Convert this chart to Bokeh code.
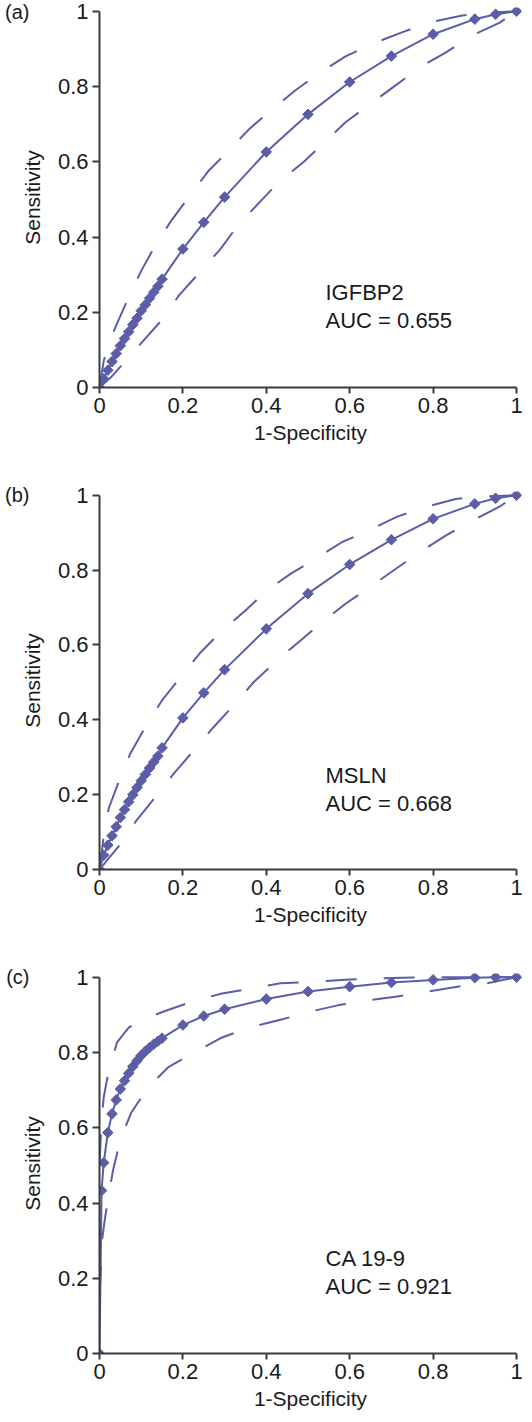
from bokeh.plotting import figure
from bokeh.models import FixedTicker, Label, LinearAxis
from bokeh.layouts import column
from bokeh.embed import file_html
from bokeh.resources import INLINE

# ---------------- data ----------------
tick_values = [0, 0.2, 0.4, 0.6, 0.8, 1.0]
tick_labels = ["0", "0.2", "0.4", "0.6", "0.8", "1"]

fpr_ab = [0, 0.01, 0.02, 0.03, 0.04, 0.05, 0.06, 0.07, 0.08, 0.09, 0.10, 0.11, 0.12, 0.13,
          0.14, 0.15, 0.2, 0.25, 0.3, 0.4, 0.5, 0.6, 0.7, 0.8, 0.9, 0.95, 1.0]
sens_a = [0, 0.023, 0.046, 0.069, 0.090, 0.111, 0.130, 0.148, 0.167, 0.184, 0.204, 0.220, 0.237,
          0.253, 0.269, 0.288, 0.368, 0.439, 0.506, 0.626, 0.726, 0.812, 0.881, 0.939, 0.979, 0.992, 1.0]
sens_b = [0, 0.038, 0.065, 0.090, 0.114, 0.139, 0.160, 0.181, 0.200, 0.219, 0.237, 0.254, 0.271,
          0.287, 0.303, 0.325, 0.405, 0.472, 0.534, 0.643, 0.737, 0.815, 0.881, 0.937, 0.977, 0.992, 1.0]

fpr_c = [0, 0.005, 0.01, 0.02, 0.03, 0.04, 0.05, 0.06, 0.07, 0.08, 0.09, 0.10, 0.11, 0.12, 0.13,
         0.14, 0.15, 0.2, 0.25, 0.3, 0.4, 0.5, 0.6, 0.7, 0.8, 0.9, 0.95, 1.0]
sens_c = [0, 0.433, 0.507, 0.587, 0.637, 0.674, 0.703, 0.725, 0.745, 0.763, 0.778, 0.792, 0.803,
          0.813, 0.822, 0.830, 0.838, 0.873, 0.897, 0.915, 0.942, 0.962, 0.975, 0.986, 0.993, 0.999, 1.0, 1.0]

# confidence bands (upper / lower)
up_a_x = [0, 0.01, 0.02, 0.04, 0.07, 0.10, 0.13, 0.17, 0.21, 0.26, 0.31, 0.36, 0.42, 0.47, 0.53,
          0.59, 0.66, 0.73, 0.79, 0.87, 0.93, 1.0]
up_a_y = [0, 0.07, 0.11, 0.165, 0.24, 0.31, 0.37, 0.44, 0.50, 0.574, 0.63, 0.688, 0.745, 0.79, 0.838,
          0.88, 0.916, 0.946, 0.97, 0.989, 0.996, 1.0]
lo_a_x = [0, 0.03, 0.06, 0.10, 0.15, 0.19, 0.24, 0.29, 0.33, 0.38, 0.43, 0.49, 0.54, 0.59, 0.65,
          0.71, 0.77, 0.83, 0.89, 0.96, 1.0]
lo_a_y = [0, 0.03, 0.068, 0.118, 0.18, 0.244, 0.306, 0.368, 0.428, 0.488, 0.546, 0.60, 0.652, 0.705,
          0.754, 0.803, 0.852, 0.89, 0.934, 0.97, 1.0]

up_b_x = [0, 0.01, 0.022, 0.046, 0.074, 0.11, 0.15, 0.198, 0.24, 0.29, 0.35, 0.402, 0.458, 0.522,
          0.582, 0.646, 0.714, 0.786, 0.854, 0.922, 1.0]
up_b_y = [0, 0.087, 0.163, 0.234, 0.31, 0.381, 0.452, 0.519, 0.577, 0.634, 0.692, 0.746, 0.79, 0.833,
          0.875, 0.906, 0.943, 0.97, 0.99, 0.997, 1.0]
lo_b_x = [0, 0.022, 0.062, 0.086, 0.134, 0.178, 0.226, 0.27, 0.322, 0.37, 0.426, 0.478, 0.534, 0.59,
          0.65, 0.71, 0.774, 0.83, 0.894, 0.96, 1.0]
lo_b_y = [0, 0.03, 0.083, 0.127, 0.194, 0.256, 0.318, 0.376, 0.439, 0.501, 0.559, 0.608, 0.661, 0.71,
          0.756, 0.803, 0.852, 0.892, 0.932, 0.97, 1.0]

up_c_x = [0, 0.004, 0.01, 0.02, 0.042, 0.07, 0.094, 0.154, 0.226, 0.294, 0.37, 0.434, 0.51, 0.6,
          0.7, 0.8, 0.9, 1.0]
up_c_y = [0.5, 0.6, 0.68, 0.74, 0.827, 0.866, 0.883, 0.909, 0.937, 0.957, 0.971, 0.984, 0.988, 0.994,
          0.998, 1.0, 1.0, 1.0]
lo_c_x = [0, 0.003, 0.006, 0.012, 0.02, 0.033, 0.05, 0.076, 0.118, 0.166, 0.23, 0.294, 0.362, 0.434,
          0.51, 0.574, 0.646, 0.714, 0.786, 0.858, 0.93, 1.0]
lo_c_y = [0.15, 0.22, 0.30, 0.35, 0.41, 0.49, 0.567, 0.64, 0.709, 0.762, 0.802, 0.84, 0.867, 0.887,
          0.91, 0.926, 0.939, 0.949, 0.962, 0.975, 0.984, 1.0]

panel_tags = ["(a)", "(b)", "(c)"]
markers_names = ["IGFBP2", "MSLN", "CA 19-9"]
auc_texts = ["AUC = 0.655", "AUC = 0.668", "AUC = 0.921"]

# ---------------- style ----------------
COLOR = "#5B5EA6"
FONT = "Liberation Sans"
AXIS_COLOR = "#3a3a3a"
TXT = "#1a1a1a"


def make_panel(tag, name, auc, fx, fy, ux, uy, lx, ly, height, top, bottom):
    p = figure(width=532, height=height, x_range=(0, 1.012), y_range=(0, 1.01),
               output_backend="svg", toolbar_location=None,
               min_border_left=99, min_border_right=11,
               min_border_top=top, min_border_bottom=bottom)
    p.outline_line_color = None
    p.grid.visible = False
    p.background_fill_color = "white"
    p.border_fill_color = "white"

    for ax in (p.xaxis[0], p.yaxis[0]):
        ax.ticker = FixedTicker(ticks=tick_values)
        ax.major_label_overrides = {v: s for v, s in zip(tick_values, tick_labels)}
        ax.bounds = (0, 1)
        ax.axis_line_color = AXIS_COLOR
        ax.axis_line_width = 2
        ax.major_tick_line_color = AXIS_COLOR
        ax.major_tick_line_width = 2
        ax.major_tick_in = 0
        ax.minor_tick_line_color = None
        ax.major_label_text_font = FONT
        ax.major_label_text_font_size = "22px"
        ax.major_label_text_color = TXT
        ax.axis_label_text_font = FONT
        ax.axis_label_text_font_size = "21px"
        ax.axis_label_text_font_style = "normal"
        ax.axis_label_text_color = TXT

    p.xaxis.major_tick_out = 6
    p.xaxis.major_label_standoff = 4
    p.xaxis.axis_label = "1-Specificity"
    p.xaxis.axis_label_standoff = 5
    p.yaxis.major_tick_out = 7
    p.yaxis.major_label_standoff = 4
    p.yaxis.axis_label = "Sensitivity"
    p.yaxis.axis_label_standoff = 11

    # panel tag "(a)" etc. drawn as the only label of an outer, line-less left axis
    tag_axis = LinearAxis(ticker=FixedTicker(ticks=[1.0]), major_label_overrides={1.0: tag},
                          axis_line_color=None, major_tick_line_color=None,
                          minor_tick_line_color=None, major_tick_in=0, major_tick_out=0,
                          major_label_standoff=-12, major_label_text_font=FONT,
                          major_label_text_font_size="20px", major_label_text_color=TXT)
    p.add_layout(tag_axis, "left")

    p.line(ux, uy, line_color=COLOR, line_width=2, line_dash="31 27")
    p.line(lx, ly, line_color=COLOR, line_width=2, line_dash="31 27")
    p.line(fx, fy, line_color=COLOR, line_width=2)
    p.scatter(fx, fy, marker="square", angle=0.785, size=7.5, fill_color=COLOR, line_color=COLOR)

    p.add_layout(Label(x=0.542, y=0.252, text=name, text_font=FONT, text_font_size="22px",
                       text_baseline="middle", text_align="left", text_color=TXT))
    p.add_layout(Label(x=0.542, y=0.177, text=auc, text_font=FONT, text_font_size="22px",
                       text_baseline="middle", text_align="left", text_color=TXT))
    return p


pa = make_panel(panel_tags[0], markers_names[0], auc_texts[0], fpr_ab, sens_a,
                up_a_x, up_a_y, lo_a_x, lo_a_y, 480, 7, 93)
pb = make_panel(panel_tags[1], markers_names[1], auc_texts[1], fpr_ab, sens_b,
                up_b_x, up_b_y, lo_b_x, lo_b_y, 480, 11, 91)
pc = make_panel(panel_tags[2], markers_names[2], auc_texts[2], fpr_c, sens_c,
                up_c_x, up_c_y, lo_c_x, lo_c_y, 462, 13, 69)

layout = column(pa, pb, pc, spacing=0)
open("out.html", "w").write(file_html(layout, INLINE))
